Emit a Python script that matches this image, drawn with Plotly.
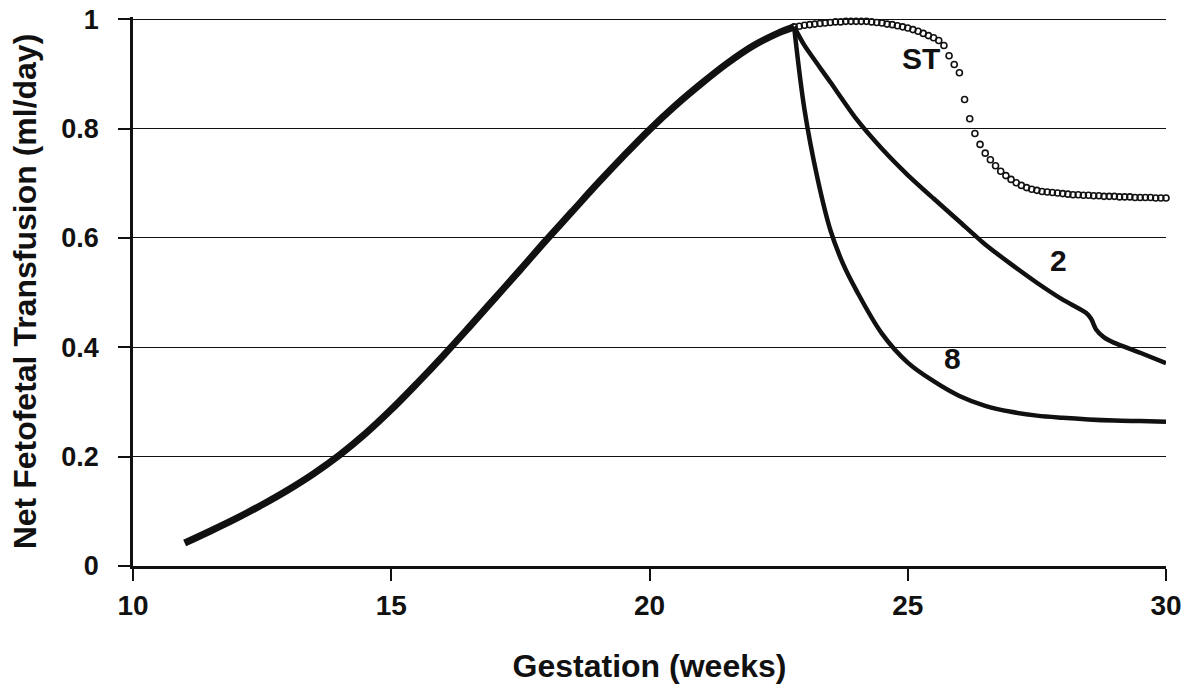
import plotly.graph_objects as go

# ---------------- data ----------------
rise_weeks = [11.0, 11.5, 12.0, 12.5, 13.0, 13.5, 14.0, 14.5, 15.0, 15.5, 16.0, 16.5,
              17.0, 17.5, 18.0, 18.5, 19.0, 19.5, 20.0, 20.5, 21.0, 21.5, 22.0, 22.5, 22.8]
rise_values = [0.042, 0.064, 0.087, 0.112, 0.139, 0.169, 0.203, 0.242, 0.286, 0.334, 0.384, 0.436,
               0.489, 0.542, 0.596, 0.648, 0.700, 0.750, 0.798, 0.842, 0.882, 0.919, 0.951, 0.975, 0.986]

st_start = 22.8
st_step = 0.1
st_values = [
    0.986, 0.987, 0.989, 0.990, 0.991, 0.992, 0.993, 0.994, 0.995, 0.995,
    0.996, 0.996, 0.996, 0.996, 0.996, 0.995, 0.994, 0.993, 0.991, 0.990,
    0.988, 0.986, 0.984, 0.981, 0.978, 0.974, 0.970, 0.966, 0.961, 0.952,
    0.933, 0.917, 0.902, 0.853, 0.818, 0.791, 0.771, 0.755, 0.743, 0.732,
    0.722, 0.714, 0.707, 0.701, 0.696, 0.692, 0.689, 0.687, 0.685, 0.684,
    0.683, 0.682, 0.681, 0.680, 0.679, 0.679, 0.678, 0.678, 0.677, 0.677,
    0.676, 0.676, 0.676, 0.675, 0.675, 0.675, 0.674, 0.674, 0.674, 0.674,
    0.673, 0.673, 0.673,
]
st_weeks = [round(st_start + st_step * i, 1) for i in range(len(st_values))]

r2_weeks = [22.8, 23.0, 23.5, 24.0, 24.5, 25.0, 25.5, 26.0, 26.5, 27.0, 27.5, 28.0,
            28.45, 28.55, 28.65, 28.8, 29.0, 29.5, 30.0]
r2_values = [0.986, 0.952, 0.885, 0.818, 0.763, 0.715, 0.672, 0.630, 0.588, 0.552, 0.518, 0.487,
             0.463, 0.452, 0.432, 0.418, 0.408, 0.390, 0.371]

r8_weeks = [22.8, 23.0, 23.25, 23.5, 23.75, 24.0, 24.5, 25.0, 25.5, 26.0, 26.5, 27.0,
            27.5, 28.0, 28.5, 29.0, 29.5, 30.0]
r8_values = [0.986, 0.835, 0.710, 0.615, 0.552, 0.505, 0.425, 0.372, 0.338, 0.311, 0.293, 0.282,
             0.275, 0.271, 0.268, 0.266, 0.265, 0.264]

x_ticks = [10, 15, 20, 25, 30]
y_ticks = [0, 0.2, 0.4, 0.6, 0.8, 1]
y_tick_labels = ["0", "0.2", "0.4", "0.6", "0.8", "1"]

labels = [("ST", 25.25, 0.929), ("2", 27.91, 0.559), ("8", 25.86, 0.380)]

# ---------------- figure ----------------
FONT = "Liberation Sans, Arial, Helvetica, sans-serif"
fig = go.Figure()

fig.add_trace(go.Scatter(x=rise_weeks, y=rise_values, mode="lines",
                         line=dict(color="#111", width=7, shape="spline", smoothing=1.0),
                         showlegend=False, hoverinfo="skip"))
fig.add_trace(go.Scatter(x=r2_weeks, y=r2_values, mode="lines",
                         line=dict(color="#111", width=4.5, shape="spline", smoothing=0.6),
                         showlegend=False))
fig.add_trace(go.Scatter(x=r8_weeks, y=r8_values, mode="lines",
                         line=dict(color="#111", width=4.5, shape="spline", smoothing=1.0),
                         showlegend=False))
fig.add_trace(go.Scatter(x=st_weeks, y=st_values, mode="markers",
                         marker=dict(symbol="circle-open", size=6, color="#111",
                                     line=dict(width=1.6, color="#111")),
                         showlegend=False, cliponaxis=False))

for text, xv, yv in labels:
    fig.add_annotation(x=xv, y=yv, text=text, showarrow=False,
                       font=dict(family=FONT, size=30, color="#111", weight="bold"))

fig.update_layout(
    width=1196, height=687,
    margin=dict(l=133, r=30, t=17, b=121),
    paper_bgcolor="white", plot_bgcolor="white",
    font=dict(family=FONT, color="#111"),
)
fig.update_xaxes(
    range=[10, 30], tickvals=x_ticks, ticktext=[str(v) for v in x_ticks],
    showgrid=False, zeroline=False,
    showline=True, linecolor="#111", linewidth=2.5,
    ticks="outside", ticklen=12, tickwidth=2, tickcolor="#111",
    ticklabelstandoff=1,
    tickfont=dict(family=FONT, size=28, color="#111", weight="bold"),
    title=dict(text="Gestation (weeks)", standoff=35,
               font=dict(family=FONT, size=32, color="#111", weight="bold")),
    automargin=False,
)
fig.update_yaxes(
    range=[0, 1.004], tickvals=y_ticks, ticktext=y_tick_labels,
    showgrid=True, gridcolor="#111", gridwidth=1.4, zeroline=False,
    showline=True, linecolor="#111", linewidth=2.5,
    ticks="outside", ticklen=12, tickwidth=2, tickcolor="#111",
    ticklabelstandoff=14, ticklabeloverflow="allow",
    tickfont=dict(family=FONT, size=27, color="#111", weight="bold"),
    title=dict(text="Net Fetofetal Transfusion (ml/day)", standoff=16,
               font=dict(family=FONT, size=32, color="#111", weight="bold")),
    automargin=False,
)

# remove the default 8px page margin so the figure sits at the window's top-left
fig.write_html("out.html", config={"displayModeBar": False},
               post_script="document.body.style.margin='0';")
